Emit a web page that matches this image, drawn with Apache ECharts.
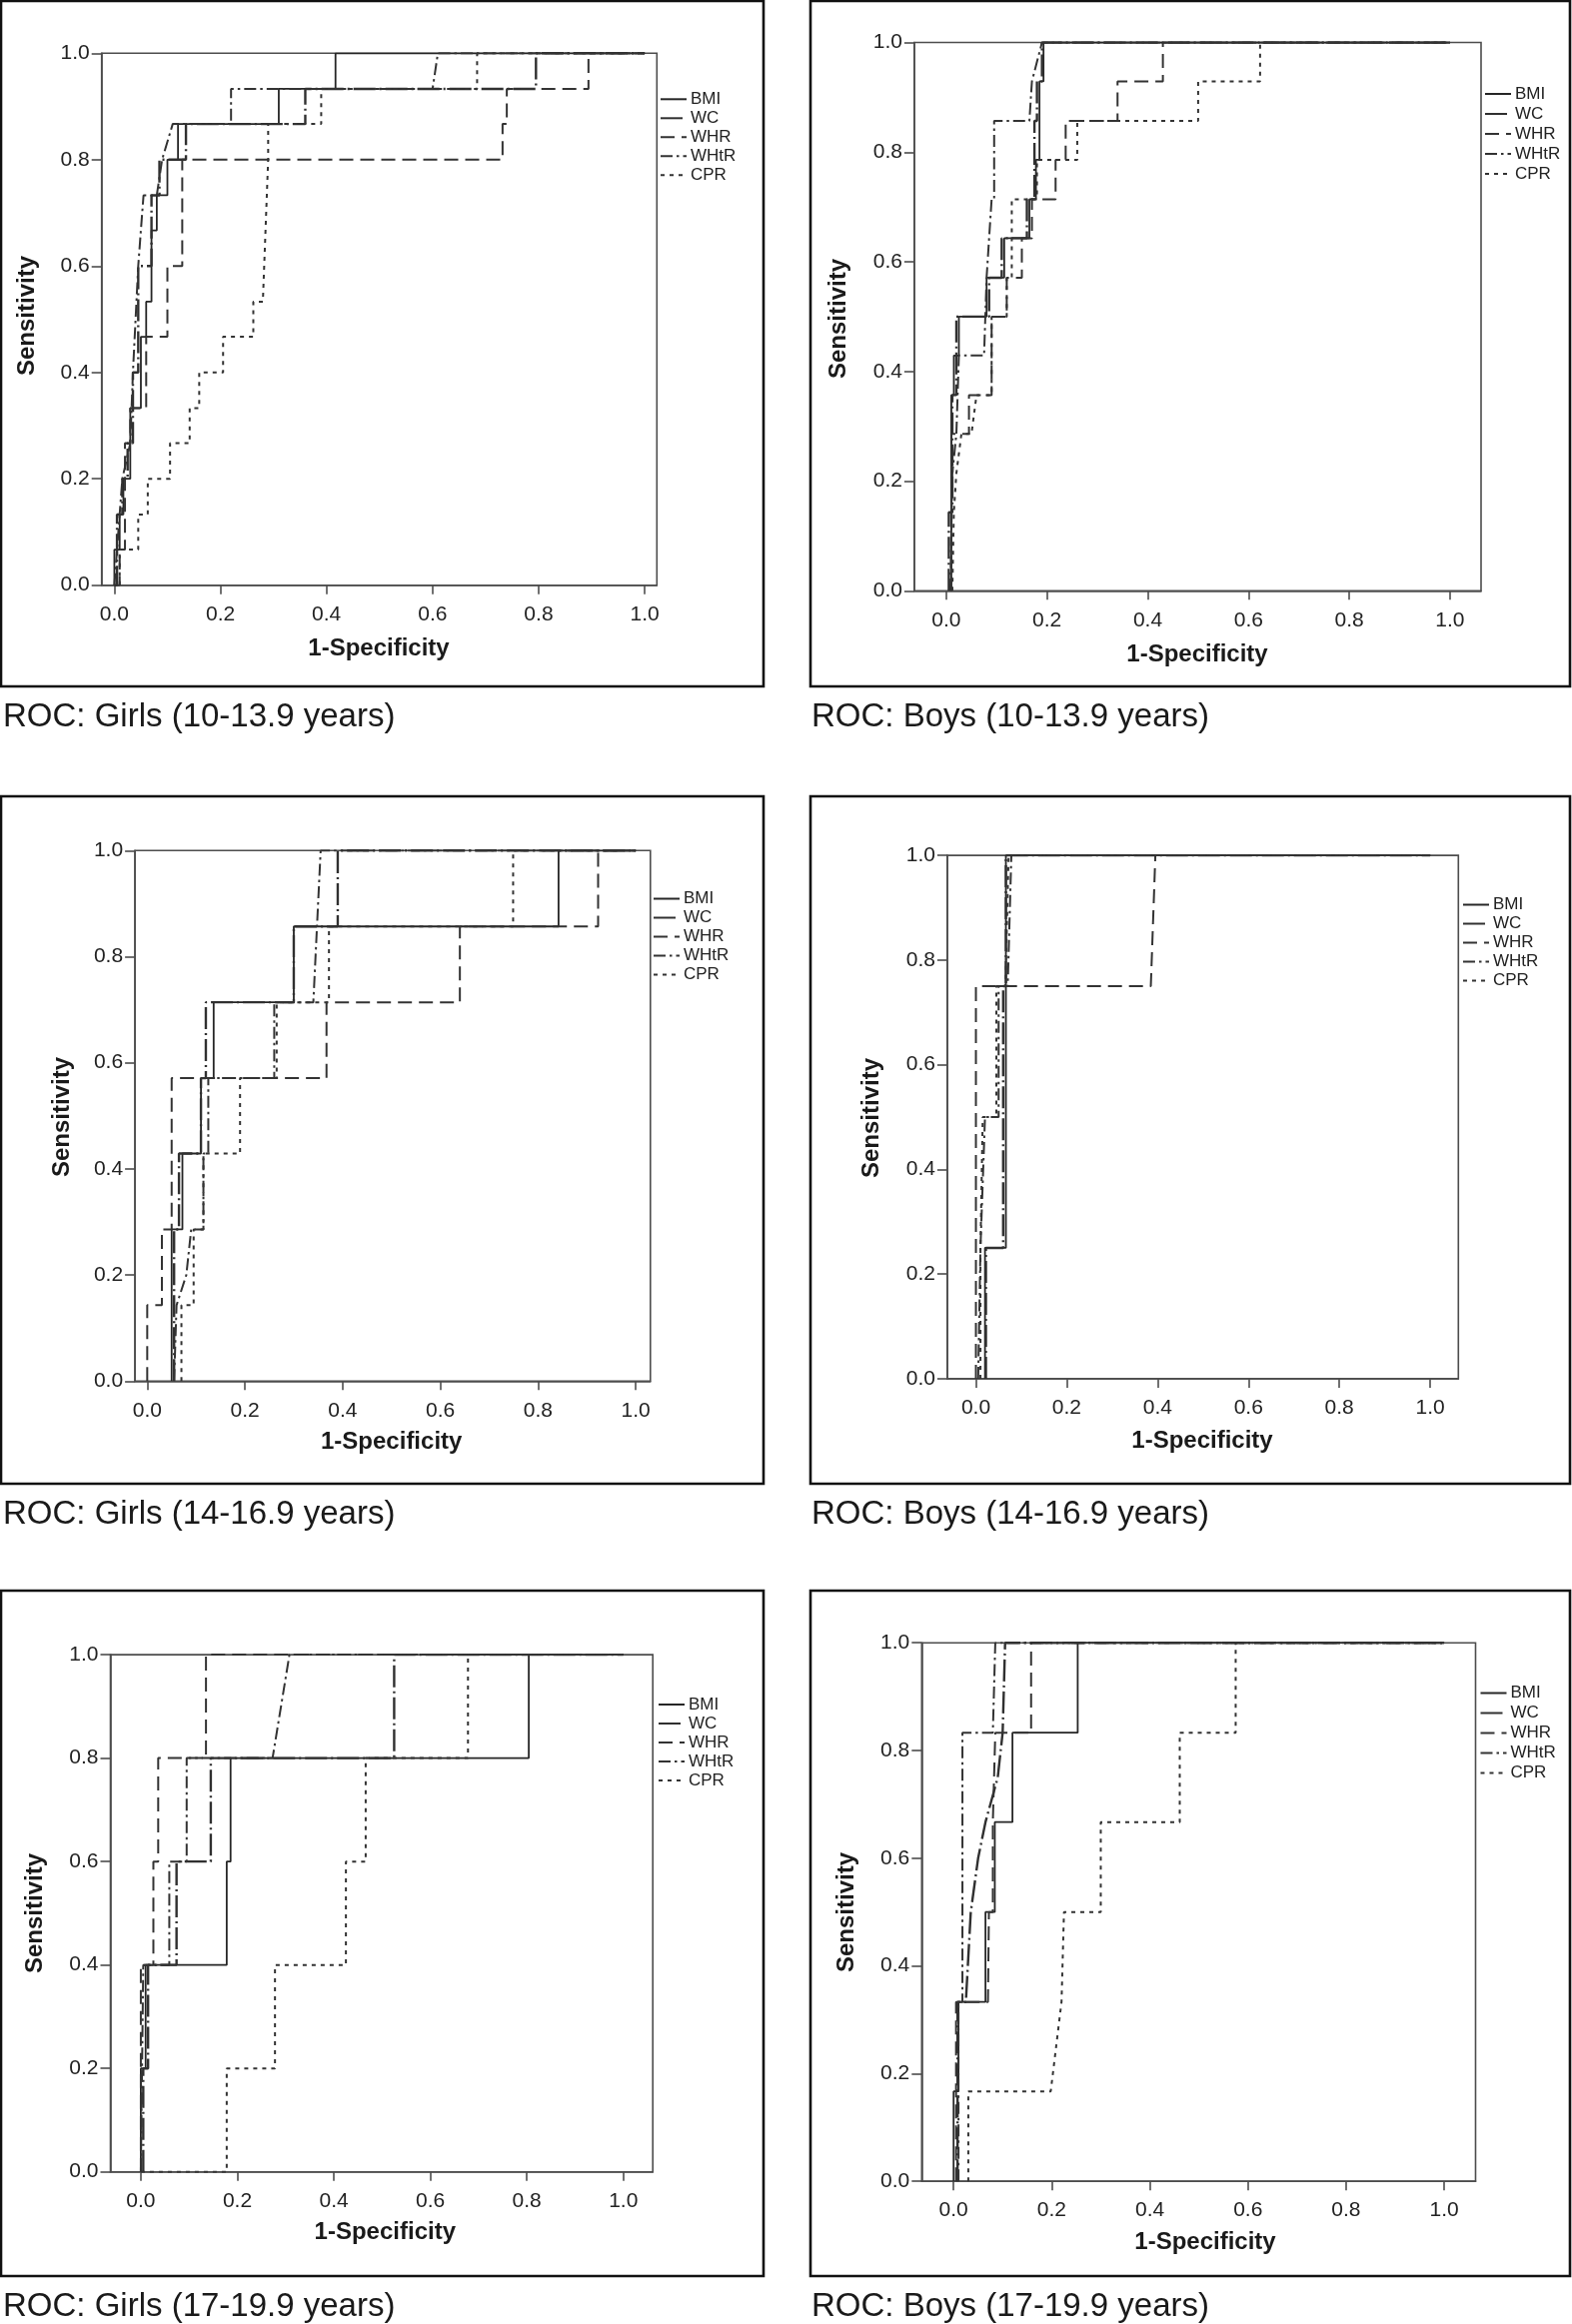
<!DOCTYPE html>
<html>
<head>
<meta charset="utf-8">
<script src="https://cdn.jsdelivr.net/npm/echarts@6/dist/echarts.min.js"></script>
<style>
html,body{margin:0;padding:0;background:#fff;}
#chart{width:1573px;height:2326px;}
</style>
</head>
<body>
<div id="chart"></div>
<script>
// ---------- DATA ----------
const seriesNames = ['BMI', 'WC', 'WHR', 'WHtR', 'CPR'];
const xTickValues = [0, 0.2, 0.4, 0.6, 0.8, 1.0];
const panelTitles = [
  'ROC: Girls (10-13.9 years)', 'ROC: Boys (10-13.9 years)',
  'ROC: Girls (14-16.9 years)', 'ROC: Boys (14-16.9 years)',
  'ROC: Girls (17-19.9 years)', 'ROC: Boys (17-19.9 years)'
];
const xAxisTitle = '1-Specificity';
const yAxisTitle = 'Sensitivity';

// Girls 10-13.9 : [1-specificity, sensitivity]
const girls10_BMI = [[0,0],[0,0.067],[0.01,0.067],[0.01,0.133],[0.017,0.133],[0.017,0.2],[0.03,0.2],[0.03,0.333],[0.05,0.333],[0.05,0.467],[0.06,0.467],[0.06,0.533],[0.07,0.533],[0.07,0.667],[0.08,0.667],[0.08,0.733],[0.1,0.733],[0.1,0.8],[0.12,0.8],[0.12,0.867],[0.31,0.867],[0.31,0.933],[0.417,0.933],[0.417,1],[1,1]];
const girls10_WC = [[0,0],[0.005,0],[0.005,0.133],[0.015,0.133],[0.015,0.2],[0.025,0.2],[0.025,0.267],[0.035,0.267],[0.035,0.4],[0.045,0.4],[0.045,0.6],[0.07,0.6],[0.07,0.733],[0.085,0.733],[0.085,0.8],[0.135,0.8],[0.135,0.867],[0.36,0.867],[0.36,0.933],[0.795,0.933],[0.795,1],[1,1]];
const girls10_WHR = [[0,0],[0.01,0],[0.01,0.067],[0.02,0.067],[0.02,0.267],[0.03,0.267],[0.03,0.333],[0.06,0.333],[0.06,0.467],[0.1,0.467],[0.1,0.6],[0.128,0.6],[0.128,0.8],[0.732,0.8],[0.732,0.867],[0.74,0.867],[0.74,0.933],[0.894,0.933],[0.894,1],[1,1]];
const girls10_WHtR = [[0,0],[0.005,0.067],[0.015,0.2],[0.03,0.267],[0.035,0.4],[0.045,0.6],[0.05,0.667],[0.055,0.733],[0.08,0.733],[0.09,0.8],[0.11,0.867],[0.22,0.867],[0.22,0.933],[0.6,0.933],[0.61,1],[1,1]];
const girls10_CPR = [[0.01,0],[0.01,0.067],[0.045,0.067],[0.045,0.133],[0.063,0.133],[0.063,0.2],[0.105,0.2],[0.105,0.267],[0.142,0.267],[0.142,0.333],[0.16,0.333],[0.16,0.4],[0.205,0.4],[0.205,0.467],[0.262,0.467],[0.262,0.533],[0.28,0.533],[0.29,0.8],[0.29,0.867],[0.39,0.867],[0.39,0.933],[0.684,0.933],[0.684,1],[1,1]];

// Boys 10-13.9
const boys10_BMI = [[0.01,0],[0.01,0.357],[0.015,0.357],[0.015,0.429],[0.025,0.429],[0.025,0.5],[0.08,0.5],[0.08,0.571],[0.115,0.571],[0.115,0.643],[0.165,0.643],[0.165,0.714],[0.178,0.714],[0.178,0.786],[0.185,0.786],[0.185,0.929],[0.193,0.929],[0.193,1],[1,1]];
const boys10_WC = [[0.005,0],[0.005,0.143],[0.012,0.143],[0.012,0.357],[0.02,0.357],[0.02,0.5],[0.085,0.5],[0.085,0.571],[0.11,0.571],[0.11,0.643],[0.16,0.643],[0.16,0.714],[0.175,0.714],[0.175,0.857],[0.18,0.857],[0.18,0.929],[0.19,0.929],[0.19,1],[1,1]];
const boys10_WHR = [[0.01,0],[0.01,0.286],[0.045,0.286],[0.045,0.357],[0.09,0.357],[0.09,0.5],[0.12,0.5],[0.12,0.571],[0.15,0.571],[0.15,0.643],[0.17,0.643],[0.17,0.714],[0.217,0.714],[0.217,0.786],[0.237,0.786],[0.237,0.857],[0.34,0.857],[0.34,0.929],[0.43,0.929],[0.43,1],[1,1]];
const boys10_WHtR = [[0.008,0],[0.012,0.214],[0.02,0.286],[0.025,0.429],[0.075,0.429],[0.08,0.571],[0.085,0.643],[0.09,0.714],[0.095,0.714],[0.095,0.857],[0.165,0.857],[0.17,0.929],[0.19,1],[1,1]];
const boys10_CPR = [[0.012,0],[0.015,0.143],[0.02,0.214],[0.03,0.286],[0.05,0.286],[0.06,0.357],[0.09,0.357],[0.09,0.5],[0.12,0.5],[0.12,0.571],[0.13,0.571],[0.13,0.714],[0.18,0.714],[0.18,0.786],[0.26,0.786],[0.26,0.857],[0.5,0.857],[0.5,0.929],[0.623,0.929],[0.623,1],[1,1]];

// Girls 14-16.9
const girls14_BMI = [[0.05,0],[0.05,0.286],[0.072,0.286],[0.072,0.429],[0.11,0.429],[0.11,0.571],[0.136,0.571],[0.136,0.714],[0.3,0.714],[0.3,0.857],[0.842,0.857],[0.842,1],[1,1]];
const girls14_WC = [[0.055,0],[0.055,0.286],[0.065,0.286],[0.065,0.429],[0.11,0.429],[0.11,0.571],[0.12,0.571],[0.12,0.714],[0.3,0.714],[0.3,0.857],[0.39,0.857],[0.39,1],[1,1]];
const girls14_WHR = [[0,0],[0,0.143],[0.03,0.143],[0.03,0.286],[0.05,0.286],[0.05,0.571],[0.367,0.571],[0.367,0.714],[0.64,0.714],[0.64,0.857],[0.923,0.857],[0.923,1],[1,1]];
const girls14_WHtR = [[0.055,0],[0.06,0.143],[0.08,0.2],[0.09,0.286],[0.115,0.286],[0.115,0.429],[0.125,0.429],[0.125,0.571],[0.26,0.571],[0.26,0.714],[0.34,0.714],[0.355,1],[1,1]];
const girls14_CPR = [[0.07,0],[0.07,0.143],[0.095,0.143],[0.095,0.286],[0.115,0.286],[0.115,0.429],[0.19,0.429],[0.19,0.571],[0.265,0.571],[0.265,0.714],[0.372,0.714],[0.372,0.857],[0.749,0.857],[0.749,1],[1,1]];

// Boys 14-16.9
const boys14_BMI = [[0.02,0],[0.02,0.25],[0.066,0.25],[0.066,1],[1,1]];
const boys14_WC = [[0.022,0],[0.022,0.25],[0.06,0.25],[0.06,0.75],[0.066,0.75],[0.066,1],[1,1]];
const boys14_WHR = [[0,0],[0,0.75],[0.385,0.75],[0.395,1],[1,1]];
const boys14_WHtR = [[0.005,0],[0.01,0.25],[0.02,0.5],[0.05,0.5],[0.05,0.75],[0.07,0.75],[0.078,1],[1,1]];
const boys14_CPR = [[0.01,0],[0.01,0.25],[0.015,0.5],[0.045,0.5],[0.045,0.75],[0.065,0.75],[0.072,1],[1,1]];

// Girls 17-19.9
const girls17_BMI = [[0,0],[0,0.2],[0.01,0.2],[0.01,0.4],[0.178,0.4],[0.178,0.6],[0.186,0.6],[0.186,0.8],[0.804,0.8],[0.804,1],[1,1]];
const girls17_WC = [[0.005,0],[0.005,0.2],[0.015,0.2],[0.015,0.4],[0.074,0.4],[0.074,0.6],[0.145,0.6],[0.145,0.8],[0.525,0.8],[0.525,1],[1,1]];
const girls17_WHR = [[0,0],[0,0.4],[0.026,0.4],[0.026,0.6],[0.036,0.6],[0.036,0.8],[0.135,0.8],[0.135,1],[1,1]];
const girls17_WHtR = [[0,0],[0.005,0.4],[0.059,0.4],[0.059,0.6],[0.095,0.6],[0.095,0.8],[0.273,0.8],[0.308,1],[1,1]];
const girls17_CPR = [[0,0],[0.178,0],[0.178,0.2],[0.278,0.2],[0.278,0.4],[0.425,0.4],[0.425,0.6],[0.466,0.6],[0.466,0.8],[0.678,0.8],[0.678,1],[1,1]];

// Boys 17-19.9
const boys17_BMI = [[0,0],[0,0.167],[0.01,0.167],[0.01,0.333],[0.065,0.333],[0.065,0.5],[0.084,0.5],[0.084,0.667],[0.12,0.667],[0.12,0.833],[0.253,0.833],[0.253,1],[1,1]];
const boys17_WC = [[0.008,0],[0.008,0.333],[0.025,0.333],[0.035,0.5],[0.05,0.6],[0.065,0.667],[0.09,0.75],[0.1,0.833],[0.105,1],[1,1]];
const boys17_WHR = [[0.005,0],[0.005,0.333],[0.07,0.333],[0.072,0.5],[0.08,0.5],[0.08,0.667],[0.085,0.833],[0.158,0.833],[0.158,1],[1,1]];
const boys17_WHtR = [[0.01,0],[0.01,0.333],[0.018,0.333],[0.018,0.833],[0.08,0.833],[0.085,1],[1,1]];
const boys17_CPR = [[0.03,0],[0.03,0.167],[0.198,0.167],[0.22,0.333],[0.225,0.5],[0.3,0.5],[0.3,0.667],[0.461,0.667],[0.461,0.833],[0.575,0.833],[0.575,1],[1,1]];

const panelCurves = [
  [girls10_BMI, girls10_WC, girls10_WHR, girls10_WHtR, girls10_CPR],
  [boys10_BMI, boys10_WC, boys10_WHR, boys10_WHtR, boys10_CPR],
  [girls14_BMI, girls14_WC, girls14_WHR, girls14_WHtR, girls14_CPR],
  [boys14_BMI, boys14_WC, boys14_WHR, boys14_WHtR, boys14_CPR],
  [girls17_BMI, girls17_WC, girls17_WHR, girls17_WHtR, girls17_CPR],
  [boys17_BMI, boys17_WC, boys17_WHR, boys17_WHtR, boys17_CPR]
];

// ---------- LAYOUT (pixels) ----------
const layout = [
  {box:[1,1,763,686],   grid:[101.7,53.3,657.3,585.7],   xr:[-0.024,1.023], leg:[660,89.8,0],   cap:[3,717.5],   sens:[27,316],    spec:[379,649]},
  {box:[811,1,760,686], grid:[914.9,42.5,1482,591.3],    xr:[-0.0635,1.0617], leg:[1485,84.5,1], cap:[812,717.5], sens:[839.4,319], spec:[1198,655]},
  {box:[1,797,763,688], grid:[135.1,851.3,650.8,1382.3], xr:[-0.025,1.03], leg:[653,890,0],     cap:[3,1515.5],  sens:[62,1118],   spec:[391.7,1443.6]},
  {box:[811,797,760,688], grid:[947.9,856.1,1459.3,1379.9], xr:[-0.063,1.062], leg:[1463,896,0], cap:[812,1515.5], sens:[872.5,1119], spec:[1203,1442.7]},
  {box:[1,1592,763,686], grid:[110.5,1656.1,653.2,2173.7], xr:[-0.063,1.061], leg:[658,1696.5,0], cap:[3,2309],  sens:[35.4,1915], spec:[385.3,2234]},
  {box:[811,1592,760,686], grid:[922.3,1644.2,1476.5,2183.2], xr:[-0.065,1.064], leg:[1480.5,1685,1], cap:[812,2309], sens:[847.8,1914], spec:[1206,2244]}
];

const FONT = 'Liberation Sans, Arial, Helvetica, sans-serif';
const lineStyles = {
  BMI:  {color:'#262626', width:1.8, type:'solid'},
  WC:   {color:'#303030', width:2.4, type:[22,4,2,4]},
  WHR:  {color:'#333333', width:2,   type:[14,7]},
  WHtR: {color:'#333333', width:2,   type:[12,4,2.5,4]},
  CPR:  {color:'#333333', width:2,   type:[4,5]}
};

const grids = [], xAxes = [], yAxes = [], series = [], legends = [], graphics = [];
layout.forEach((L, i) => {
  const [gl, gt, gr, gb] = L.grid;
  grids.push({left:gl, top:gt, width:gr-gl, height:gb-gt, show:true, borderColor:'#4d4d4d', borderWidth:1.6, containLabel:false});
  xAxes.push({
    gridIndex:i, type:'value', min:L.xr[0], max:L.xr[1],
    axisLine:{show:true, onZero:false, lineStyle:{color:'#4d4d4d', width:1.6}},
    axisTick:{show:true, length:9, customValues:xTickValues, lineStyle:{color:'#4d4d4d', width:1.6}},
    axisLabel:{customValues:xTickValues, formatter:v=>v.toFixed(1), fontSize:21, color:'#222', margin:19, fontFamily:FONT},
    splitLine:{show:false}
  });
  yAxes.push({
    gridIndex:i, type:'value', min:0, max:1, interval:0.2,
    axisLine:{show:true, onZero:false, lineStyle:{color:'#4d4d4d', width:1.6}},
    axisTick:{show:true, length:10, lineStyle:{color:'#4d4d4d', width:1.6}},
    axisLabel:{formatter:v=>v.toFixed(1), fontSize:21, color:'#222', margin:12, fontFamily:FONT},
    splitLine:{show:false}
  });
  seriesNames.forEach((name, k) => {
    const st = lineStyles[name];
    series.push({
      name, type:'line', xAxisIndex:i, yAxisIndex:i,
      data: panelCurves[i][k], showSymbol:false, symbol:'none',
      lineStyle:{color:st.color, width:st.width, type:st.type},
      itemStyle:{color:st.color}, animation:false, silent:true, z:2
    });
  });
  legends.push({
    orient:'vertical', left:L.leg[0], top:L.leg[1], padding:0,
    itemWidth:26, itemHeight:10, itemGap:L.leg[2], selectedMode:false,
    data:seriesNames,
    itemStyle:{opacity:0, borderWidth:0},
    textStyle:{fontSize:17, color:'#222', fontFamily:FONT, lineHeight:19, padding:[0,0,0,-1]}
  });
  const [bx, by, bw, bh] = L.box;
  graphics.push({type:'rect', shape:{x:bx, y:by, width:bw, height:bh}, style:{fill:'none', stroke:'#111', lineWidth:2.6}, silent:true});
  graphics.push({type:'text', x:L.cap[0], y:L.cap[1], style:{text:panelTitles[i], font:'33px ' + FONT, fill:'#1a1a1a', textAlign:'left', textVerticalAlign:'middle'}, silent:true});
  graphics.push({type:'text', x:L.spec[0], y:L.spec[1], style:{text:xAxisTitle, font:'bold 24px ' + FONT, fill:'#1a1a1a', textAlign:'center', textVerticalAlign:'middle'}, silent:true});
  graphics.push({type:'text', x:L.sens[0], y:L.sens[1], rotation:Math.PI/2, style:{text:yAxisTitle, font:'bold 24px ' + FONT, fill:'#1a1a1a', textAlign:'center', textVerticalAlign:'middle'}, silent:true});
});

const chart = echarts.init(document.getElementById('chart'), null, {renderer:'canvas'});
chart.setOption({
  backgroundColor:'#ffffff',
  animation:false,
  grid:grids, xAxis:xAxes, yAxis:yAxes, series, legend:legends, graphic:graphics
});
</script>
</body>
</html>
